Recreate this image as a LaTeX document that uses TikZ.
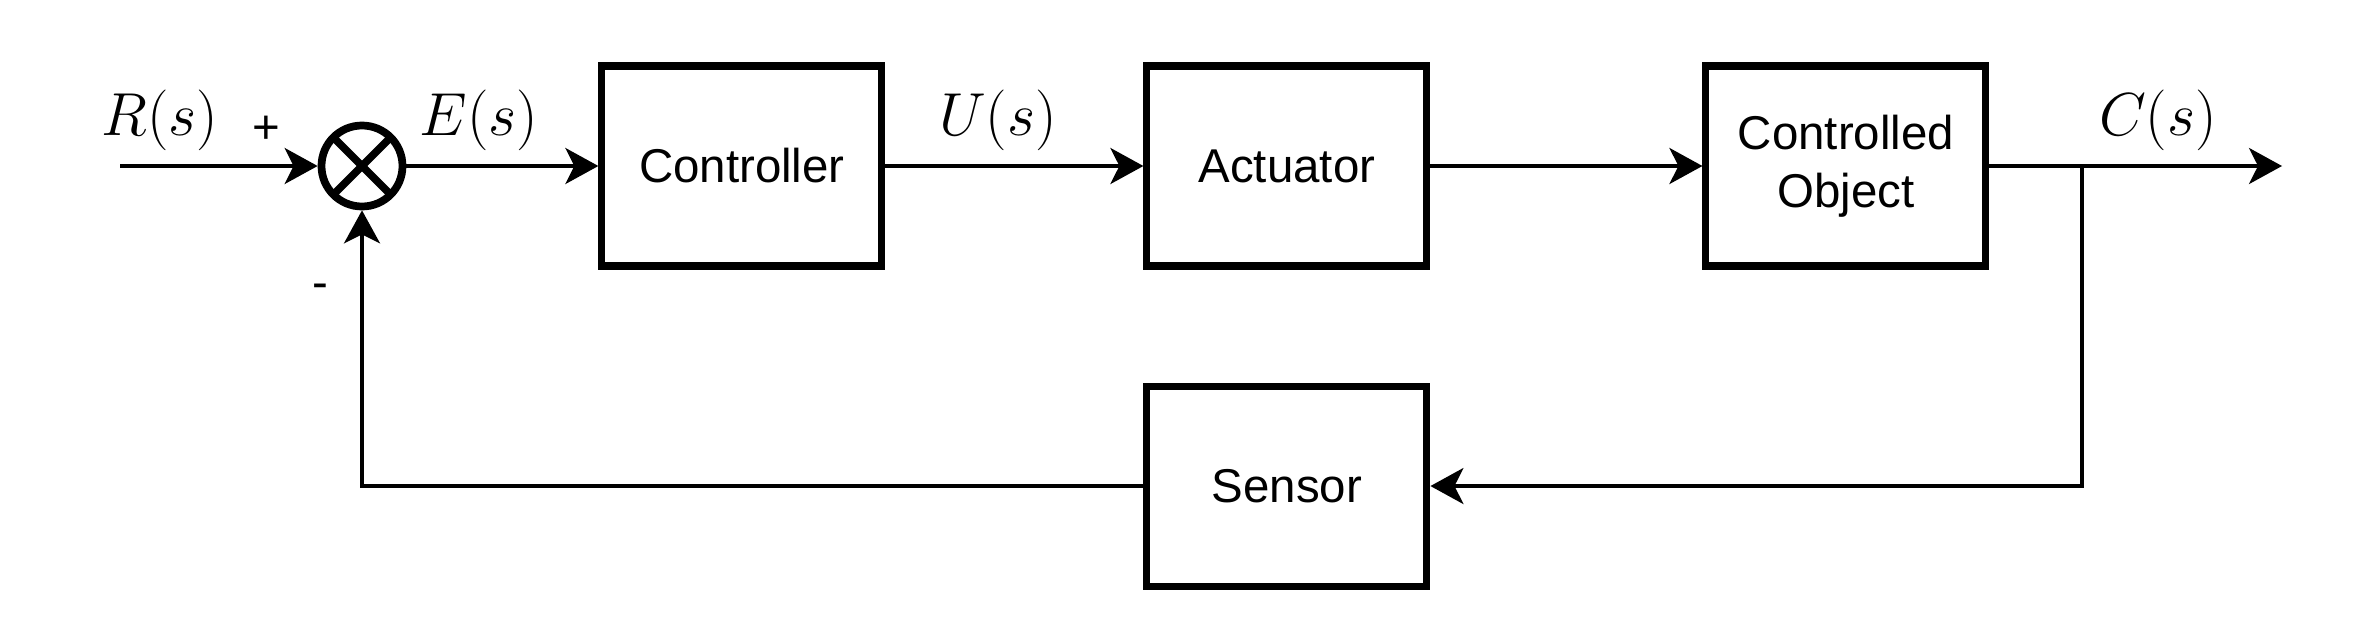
\documentclass[tikz,border=0pt]{standalone}
\usepackage[no-math]{fontspec}
\newfontfamily\liberation{Liberation Sans}
\usepackage{tikz}
\usetikzlibrary{arrows.meta,positioning}

\begin{document}
\begin{tikzpicture}[
  >={Stealth[length=0.33cm, width=0.36cm, inset=0.09cm]},
  every node/.style={font=\liberation\fontsize{13.5}{16.6}\selectfont},
  block/.style={draw, line width=2pt, minimum width=2.8cm, minimum height=2cm, align=center, inner sep=2pt},
  sumNode/.style={draw, circle, line width=2.2pt, minimum size=0.81cm, inner sep=0pt},
  sig/.style={line width=1.05pt},
  sigLabel/.style={font=\fontsize{16.5}{19}\selectfont}
]
\useasboundingbox (0,0) rectangle (23.56,-6.32);

\node[sumNode] (sum) at (3.62,-1.66) {};
\draw[line width=2.2pt] (sum.center) ++(45:0.405) -- ++(225:0.81);
\draw[line width=2.2pt] (sum.center) ++(135:0.405) -- ++(315:0.81);

\node[block, right=1.92cm of sum] (ctrl) {Controller};
\node[block, right=2.58cm of ctrl] (act) {Actuator};
\node[block, right=2.72cm of act] (obj) {Controlled\\Object};
\node[block, below=1.13cm of act] (sens) {Sensor};

\coordinate (in) at (1.20,-1.66);
\coordinate (split) at (20.82,-1.66);
\coordinate (out) at (22.82,-1.66);

\draw[sig, ->] (in) -- (sum.west);
\draw[sig, ->] (sum.east) -- (ctrl.west);
\draw[sig, ->] (ctrl.east) -- (act.west);
\draw[sig, ->] (act.east) -- (obj.west);
\draw[sig, ->] (obj.east) -- (out);
\draw[sig, ->] (split) |- (sens.east);
\draw[sig, ->] (sens.west) -| (sum.south);

\node[sigLabel] (rLabel) at (1.60,-1.20) {$R(s)$};
\node (plus) at (2.66,-1.30) {+};
\node (minus) at (3.20,-2.91) {-};
\node[sigLabel] (eLabel) at (4.79,-1.20) {$E(s)$};
\node[sigLabel] (uLabel) at (9.98,-1.20) {$U(s)$};
\node[sigLabel] (cLabel) at (21.58,-1.20) {$C(s)$};
\end{tikzpicture}
\end{document}
